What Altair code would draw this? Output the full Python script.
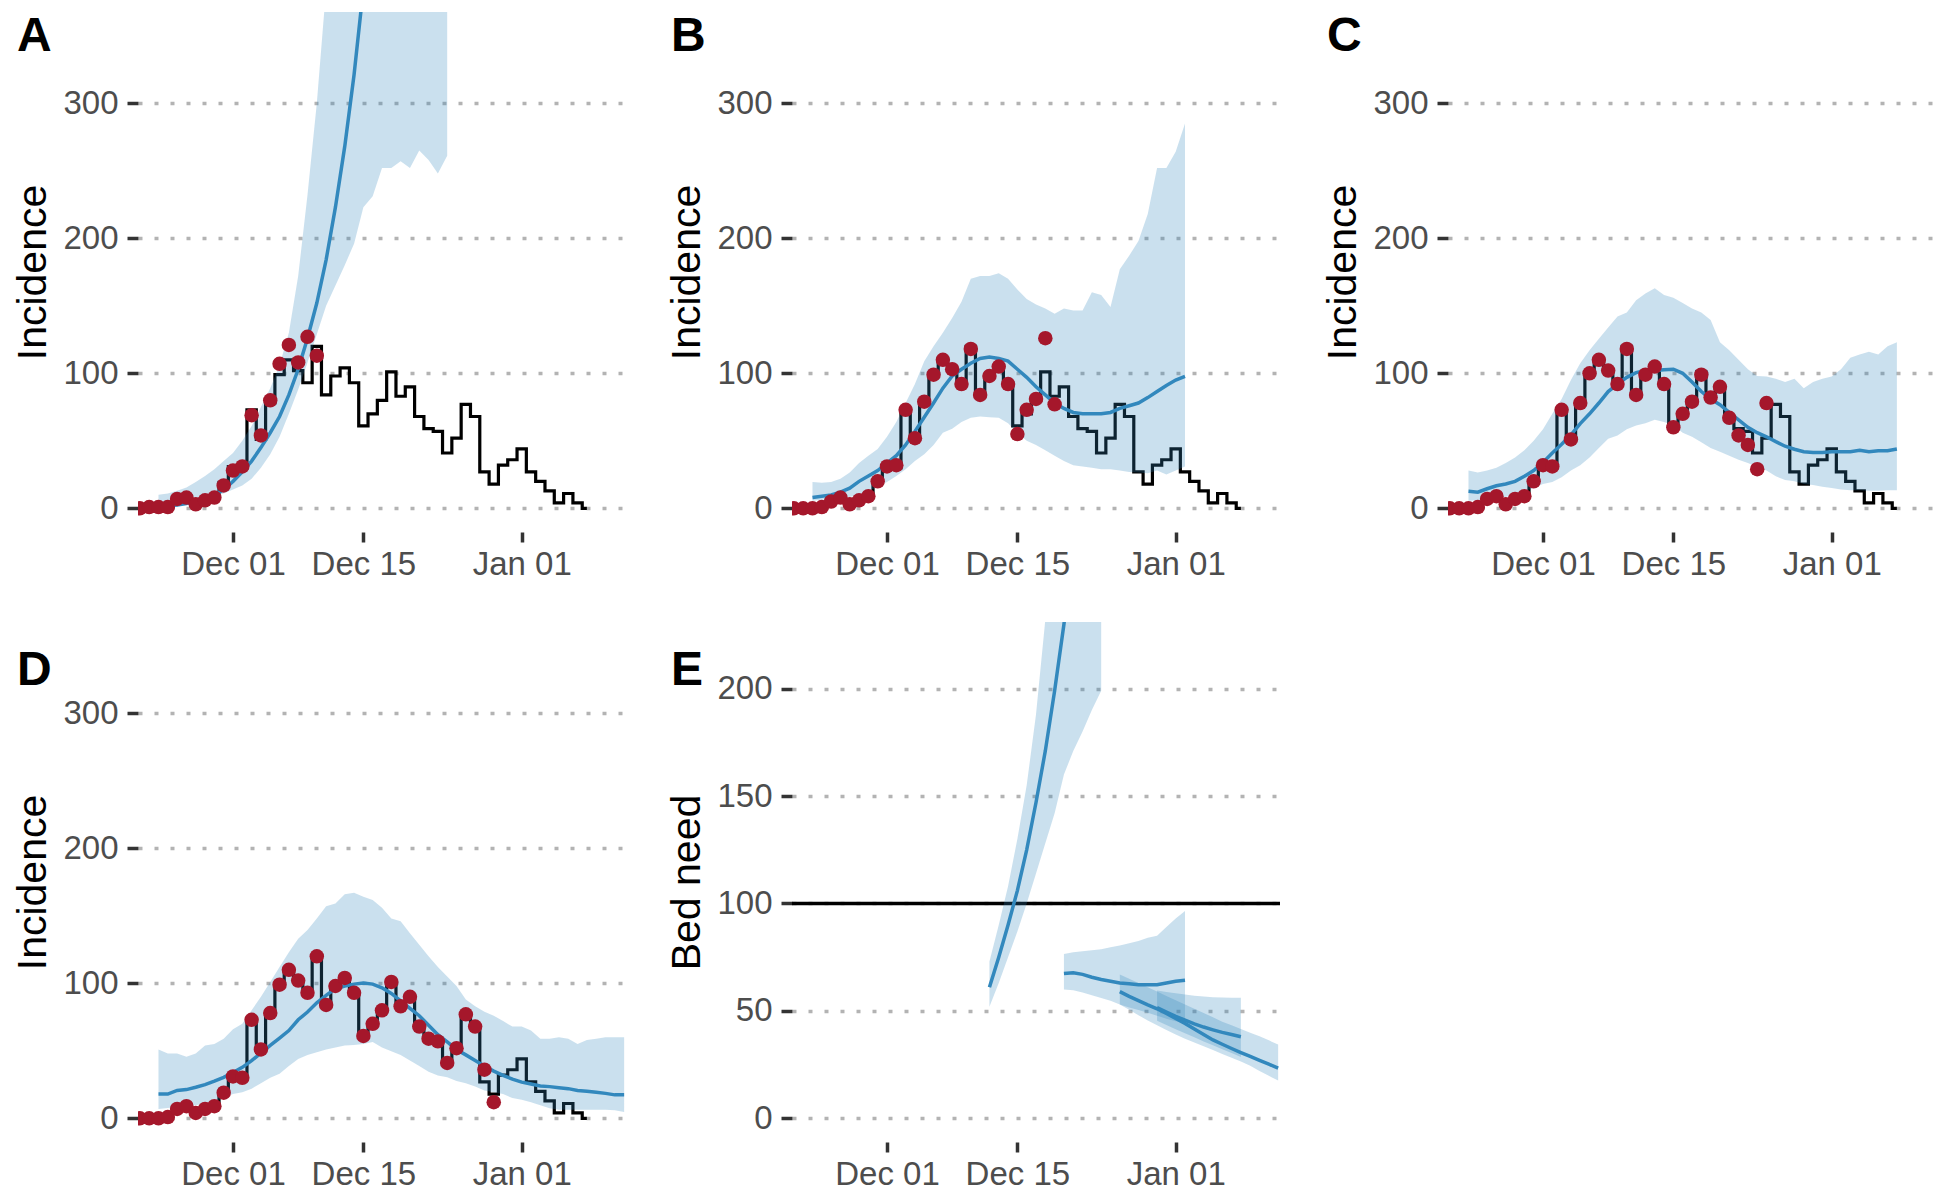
import altair as alt
import pandas as pd

BASE = pd.Timestamp("2020-12-01")


def dates(first_day, n):
    return [(BASE + pd.Timedelta(days=first_day + i)).strftime("%Y-%m-%d") for i in range(n)]


# ---------------- data ----------------
# observed incidence (black step line), daily from day -10 (Nov 21)
obs_first = -10
obs_inc = [0, 0, 0, 1, 7, 9, 4, 7, 9, 19,
           31, 30, 73, 51, 78, 99, 110, 102, 93, 120,
           84, 98, 104, 93, 61, 70, 80, 101, 83, 90,
           68, 59, 57, 41, 52, 77, 68, 27, 18, 32,
           36, 44, 27, 20, 13, 4, 11, 4, 0]

# data used for fitting (red points), daily from day -10
pts_first = -10
pts_A = [0, 1, 1, 1, 7, 8, 3, 6, 8, 17,
         28, 31, 69, 54, 80, 107, 121, 108, 127, 113]
pts_B = [0, 0, 0, 1, 5, 8, 3, 6, 9, 20,
         31, 32, 73, 52, 79, 99, 110, 103, 92, 118,
         84, 98, 105, 92, 55, 73, 81, 126, 77]
pts_C = [0, 0, 0, 1, 7, 9, 3, 7, 9, 20,
         32, 31, 73, 51, 78, 100, 110, 102, 92, 118,
         84, 99, 105, 92, 60, 70, 79, 99, 82, 90,
         67, 54, 47, 29, 78]
pts_D = [0, 0, 0, 1, 7, 9, 4, 7, 9, 19,
         31, 30, 73, 51, 78, 99, 110, 102, 93, 120,
         84, 98, 104, 93, 61, 70, 80, 101, 83, 90,
         68, 59, 57, 41, 52, 77, 68, 36, 12]

# model fits (median and 95% band), daily from day -8
fit_first = -8
A_med = [1.4, 1.8, 2.5, 3.5, 5, 7, 10, 14,
         20, 27, 35, 45, 56, 68, 84, 103, 126, 152,
         184, 223, 268, 321, 385, 460, 550, 655, 780, 925,
         1100, 1300, 1540, 1820]
A_lo = [3, 3.5, 4, 4.5, 5.5, 7, 9, 11,
        14, 17, 22, 30, 40, 53, 70, 88, 108, 129,
        150, 165, 180, 196, 223, 231, 252, 252, 257, 252,
        265, 258, 248, 261]
A_hi = [10, 11, 13, 15.5, 19.5, 24, 29, 35,
        41, 50, 61, 75, 89, 106, 130, 172, 232, 300,
        385, 470, 560, 660, 770, 890, 1020, 1160, 1310, 1470,
        1640, 1820, 2010, 2210]

B_med = [8, 9, 10, 12, 15, 20, 24, 28,
         33.5, 39, 47, 57, 67.5, 78, 89, 98, 103, 107.5,
         111, 112, 111, 109, 103, 97, 90, 84, 78, 74,
         71, 70, 70, 70, 71, 74, 76, 78, 82, 86.5,
         91, 95, 97.7]
B_lo = [5.6, 6.3, 7, 7.7, 8.4, 10, 12.6, 16,
        19.5, 24, 29, 35, 40, 47, 56, 59, 64, 67,
        68, 67.5, 67, 63, 56, 50, 47, 43, 39, 35,
        32, 31, 30, 29, 29, 28, 27, 26.5, 26, 28,
        25, 28, 31]
B_hi = [19.5, 19, 19.5, 22, 26.5, 33.5, 39, 44,
        53, 64, 78, 92, 109, 120, 130, 141, 153, 170,
        172, 172, 174, 170, 162, 155, 151, 148, 144, 148,
        146.5, 146.5, 160, 158, 149, 177, 187, 198, 218, 252,
        252, 264, 285]

C_med = [12.6, 12, 14.5, 16.7, 18, 20, 23.7, 28,
         34, 41, 47.4, 54.4, 62.8, 70, 78, 86.5, 92, 97,
         100.5, 102, 102, 102.7, 103, 100, 93.5, 86.5, 81, 76.7,
         71, 65.6, 60, 56, 53, 49.4, 46, 43.8, 41.9, 41.3,
         41.3, 42, 42, 42, 43, 42, 42.7, 42.7, 44]
C_lo = [5.6, 6, 6.4, 7.4, 8.4, 10.5, 12.6, 15,
        18, 19.5, 23, 28, 32, 37.7, 44.7, 51.6, 54, 58.6,
        61.4, 63, 65.6, 64, 61.4, 56, 53, 49, 44.7, 42,
        39, 36, 33.5, 30.7, 28, 23.7, 21, 20, 18, 17.3,
        16, 15, 14, 13.4, 13.4, 13, 13, 13.4, 13.4]
C_hi = [28, 26.5, 28, 30, 33.5, 37.7, 43, 50,
        58.6, 70, 81, 95, 107.5, 117, 125.6, 134, 142, 145,
        154, 159, 163, 158, 156, 152, 148, 145, 139.5, 123,
        117, 110, 103, 98, 97.7, 96, 93.5, 96, 89, 93.5,
        96, 97.7, 103, 111.6, 114, 116, 114, 120, 123]

D_med = [18, 18, 20.7, 21.3, 23, 25, 27.6, 30.4,
         34, 37.8, 42.8, 48.3, 54, 59.4, 65, 73, 78.7, 85.6,
         91, 96, 98, 99.4, 100.3, 99.4, 96.7, 92.5, 87, 81.5,
         76, 69, 62, 56.6, 51, 47, 42.8, 38.7, 35, 31.8,
         29, 26.8, 25.4, 24, 23.5, 22.7, 22, 20.7, 20, 19.3,
         18.5, 17.4, 17.4]
D_lo = [7, 7.6, 8.3, 9, 9.7, 11, 12.4, 15,
        18, 19.3, 22, 26, 30, 33, 38.7, 44, 47, 49,
        51, 52.5, 54, 54.4, 55, 56.6, 52.5, 49.7, 47, 42.8,
        38.7, 34.5, 31.8, 30.4, 27.6, 26, 23.5, 20.7, 19.3, 18,
        15, 13.8, 12, 9.7, 7.5, 6.4, 6.4, 6.4, 6.4, 6.4,
        6.4, 6, 4.7]
D_hi = [51, 48, 48, 45.6, 48, 54, 55, 59,
        66, 70, 80, 90, 101, 112, 123, 133, 139.5, 148,
        157, 159, 166, 167, 164, 161.6, 156, 148, 146, 137,
        128.5, 120, 112, 105, 98, 88, 83, 79, 76, 72,
        68, 68, 65, 59, 59, 60, 59, 55, 58, 59,
        60, 60, 60]

# bed need projections (panel E)
E_series = ["A", "B", "C", "D"]
E_first = [11, 19, 25, 29]
E_med = [
    [61, 75, 90, 106, 125, 147, 171, 199, 230, 265, 305, 350, 400],
    [67.4, 67.8, 67, 65.7, 64.6, 63.8, 63, 62.6, 62.2, 62.2, 62.2, 63, 63.8, 64.3],
    [59, 56.8, 54.8, 52.8, 51, 48.8, 46.5, 44.2, 41.6, 39, 36.5, 34.5, 32.5, 30.6,
     28.8, 27, 25.2, 23.4],
    [51.5, 49.5, 47.5, 45.7, 44, 42.5, 41.2, 40, 39, 38],
]
E_lo = [
    [52, 63, 75, 87, 100, 114, 128, 142, 160, 171, 180, 190, 199],
    [60, 59.6, 58.6, 57.3, 56, 54.7, 53, 51.6, 50.4, 49.2, 47.8, 46.4, 45.2, 44.3],
    [53, 50.5, 48, 45.6, 43.3, 41.1, 39, 37, 35.3, 33.6, 31.8, 30, 28.2, 26.5,
     24.5, 22, 19.8, 17.6],
    [45.4, 43.4, 41.5, 39.6, 37.7, 35.8, 34, 32.2, 30.4, 28.6],
]
E_hi = [
    [73, 90, 108, 130, 155, 188, 232, 290, 350, 420, 500, 590, 690],
    [76.5, 77.3, 77.8, 78.2, 78.7, 79.6, 80.5, 81.5, 82.5, 84, 85, 89, 93, 96.5],
    [67, 65, 63, 61, 59, 57, 55, 53, 51, 49, 47, 45, 43.3, 41.6, 39.9, 38.2, 36.3, 34.4],
    [59.5, 58.8, 58.2, 57.6, 57.1, 56.7, 56.4, 56.2, 56.1, 56.1],
]
bed_capacity = [100]

tags = ["A", "B", "C", "D", "E"]

# ---------------- styling ----------------
BLUE = "#3288bd"
RED = "#a5172b"
FONT = "Liberation Sans"
W, H = 488, 520

obs_df = pd.DataFrame({"date": dates(obs_first, len(obs_inc)), "v": obs_inc})


def pts_df(vals):
    return pd.DataFrame({"date": dates(pts_first, len(vals)), "v": vals})


def fit_df(med, lo, hi, first=fit_first, series="s"):
    return pd.DataFrame({"date": dates(first, len(med)), "med": med, "lo": lo, "hi": hi,
                         "series": series})


xscale = alt.Scale(type="utc", domain=[
    alt.DateTime(year=2020, month=11, date=20, hours=19, minutes=12, utc=True),
    alt.DateTime(year=2021, month=1, date=12, hours=4, minutes=48, utc=True)])
xaxis = alt.Axis(values=[alt.DateTime(year=2020, month=12, date=1, utc=True),
                         alt.DateTime(year=2020, month=12, date=15, utc=True),
                         alt.DateTime(year=2021, month=1, date=1, utc=True)],
                 format="%b %d", title=None)


def X():
    return alt.X("date:T", scale=xscale, axis=xaxis, title=None)


def tag_layer(t, ty):
    return alt.Chart(pd.DataFrame({"t": [t]})).mark_text(
        align="left", baseline="top", fontSize=48, fontWeight="bold", font=FONT,
        color="black").encode(x=alt.value(-121), y=alt.value(ty), text="t:N")


def inc_panel(tag, ty, pts, med, lo, hi):
    ysc = alt.Scale(domain=[-17.5, 367.5], nice=False, zero=False)
    yax = alt.Axis(values=[0, 100, 200, 300], title="Incidence")

    def Y(f):
        return alt.Y(f, scale=ysc, axis=yax, title="Incidence")

    fd = fit_df(med, lo, hi)
    step = alt.Chart(obs_df).mark_line(interpolate="step", color="black", strokeWidth=3.2,
                                       clip=True).encode(x=X(), y=Y("v:Q"))
    band = alt.Chart(fd).mark_area(color=BLUE, opacity=0.26, clip=True).encode(
        x=X(), y=Y("lo:Q"), y2="hi:Q")
    line = alt.Chart(fd).mark_line(color=BLUE, strokeWidth=3.5, clip=True).encode(
        x=X(), y=Y("med:Q"))
    dots = alt.Chart(pts_df(pts)).mark_circle(color=RED, size=210, opacity=1,
                                             clip=True).encode(x=X(), y=Y("v:Q"))
    return alt.layer(step, band, line, dots, tag_layer(tag, ty)).properties(width=W, height=H)


def bed_panel(tag, ty):
    ysc = alt.Scale(domain=[-11, 231], nice=False, zero=False)
    yax = alt.Axis(values=[0, 50, 100, 150, 200], title="Bed need")

    def Y(f):
        return alt.Y(f, scale=ysc, axis=yax, title="Bed need")

    fd = pd.concat([fit_df(E_med[i], E_lo[i], E_hi[i], first=E_first[i], series=E_series[i])
                    for i in range(len(E_series))], ignore_index=True)
    cap = alt.Chart(pd.DataFrame({"y": bed_capacity})).mark_rule(
        color="black", strokeWidth=3.3).encode(y=Y("y:Q"))
    band = alt.Chart(fd).mark_area(color=BLUE, opacity=0.26, clip=True).encode(
        x=X(), y=Y("lo:Q"), y2="hi:Q", detail="series:N")
    line = alt.Chart(fd).mark_line(color=BLUE, strokeWidth=3.5, clip=True).encode(
        x=X(), y=Y("med:Q"), detail="series:N")
    return alt.layer(cap, band, line, tag_layer(tag, ty)).properties(width=W, height=H)


pA = inc_panel(tags[0], 1, pts_A, A_med, A_lo, A_hi)
pB = inc_panel(tags[1], 1, pts_B, B_med, B_lo, B_hi)
pC = inc_panel(tags[2], 1, pts_C, C_med, C_lo, C_hi)
pD = inc_panel(tags[3], 25, pts_D, D_med, D_lo, D_hi)
pE = bed_panel(tags[4], 25)

chart = alt.concat(pA, pB, pC, pD, pE, columns=3,
                   spacing={"row": 41, "column": 40}).properties(
    padding={"left": 4, "top": 4, "right": 0, "bottom": 0}
).configure_axis(
    domain=False,
    labelFont=FONT, labelFontSize=33, labelColor="#4d4d4d",
    titleFont=FONT, titleFontSize=41, titleFontWeight="normal", titleColor="black",
    tickColor="#333333", tickWidth=3.5, tickSize=10,
    gridColor="#b3b3b3", gridDash=[4, 12], gridWidth=3.5,
).configure_axisX(
    grid=False, labelPadding=6
).configure_axisY(
    grid=True, labelPadding=9, titlePadding=8, tickSize=11
).configure_view(stroke=None)

chart.save("out.html", embed_options={"renderer": "svg", "actions": False})
